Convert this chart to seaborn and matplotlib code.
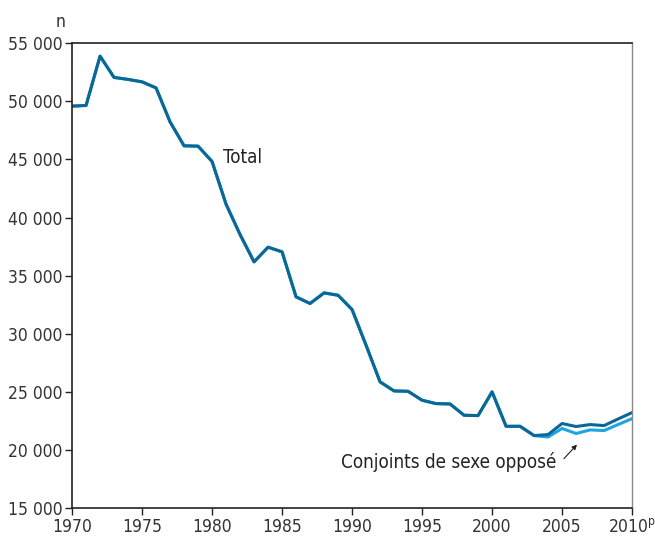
import numpy as np
import pandas as pd
import seaborn as sns
import matplotlib.pyplot as plt

# Values
years = list(range(1970, 2011))
total = [49580, 49640, 53880, 52050, 51880, 51670, 51150, 48230, 46170, 46140,
         44820, 41150, 38540, 36190, 37450, 37050, 33180, 32610, 33520, 33320,
         32090, 29020, 25870, 25090, 25060, 24290, 24000, 23970, 23000, 22970,
         25010, 22050, 22050, 21250, 21340, 22290, 22030, 22200, 22110, 22680,
         23230]
opposite_sex = total[:34] + [21130, 21860, 21430, 21740, 21680, 22200, 22710]
xtick_labels = ['1970', '1975', '1980', '1985', '1990', '1995', '2000', '2005', '2010$^{\\mathregular{p}}$']

df = pd.DataFrame({'Année': years, 'Total': total, 'Conjoints de sexe opposé': opposite_sex})

sns.set_style('white')
plt.rcParams['font.family'] = ['Liberation Sans Narrow', 'DejaVu Sans Condensed', 'DejaVu Sans']
plt.rcParams['font.stretch'] = 'condensed'
plt.rcParams['font.size'] = 12.5

fig, ax = plt.subplots(figsize=(6.55, 5.39), dpi=100)
fig.subplots_adjust(left=0.11, right=0.965, top=0.92, bottom=0.057)

sns.lineplot(data=df, x='Année', y='Conjoints de sexe opposé', color='#1ba6e0', linewidth=2.2, ax=ax)
sns.lineplot(data=df, x='Année', y='Total', color='#0b6896', linewidth=2.2, ax=ax)

ax.set_xlim(1970, 2010)
ax.set_ylim(15000, 55000)
ax.set_xticks(range(1970, 2011, 5))
ax.set_xticklabels(xtick_labels, color='#333333')
yt = range(15000, 55001, 5000)
ax.set_yticks(list(yt))
ax.set_yticklabels([f'{v:,}'.replace(',', ' ') for v in yt], color='#333333')
ax.set_xlabel('')
ax.set_ylabel('')
ax.tick_params(axis='both', direction='out', length=5, width=1, color='#222222',
               bottom=True, left=True, pad=2)

for side in ['left', 'bottom', 'top']:
    ax.spines[side].set_color('#222222')
    ax.spines[side].set_linewidth(1.2)
ax.spines['right'].set_color('#888888')
ax.spines['right'].set_linewidth(1.0)

ax.text(1969.5, 56000, 'n', ha='right', va='bottom', color='#333333')
ax.text(1980.8, 45200, 'Total', ha='left', va='center', color='#222222', fontsize=13.5)
ax.text(2004.6, 19000, 'Conjoints de sexe opposé', ha='right', va='center', color='#222222', fontsize=13.5)
ax.annotate('', xy=(2006.2, 20650), xytext=(2005.0, 19100),
            arrowprops=dict(arrowstyle='-|>', color='#222222', lw=0.8, mutation_scale=7))

fig.savefig('out.png', dpi=100)
